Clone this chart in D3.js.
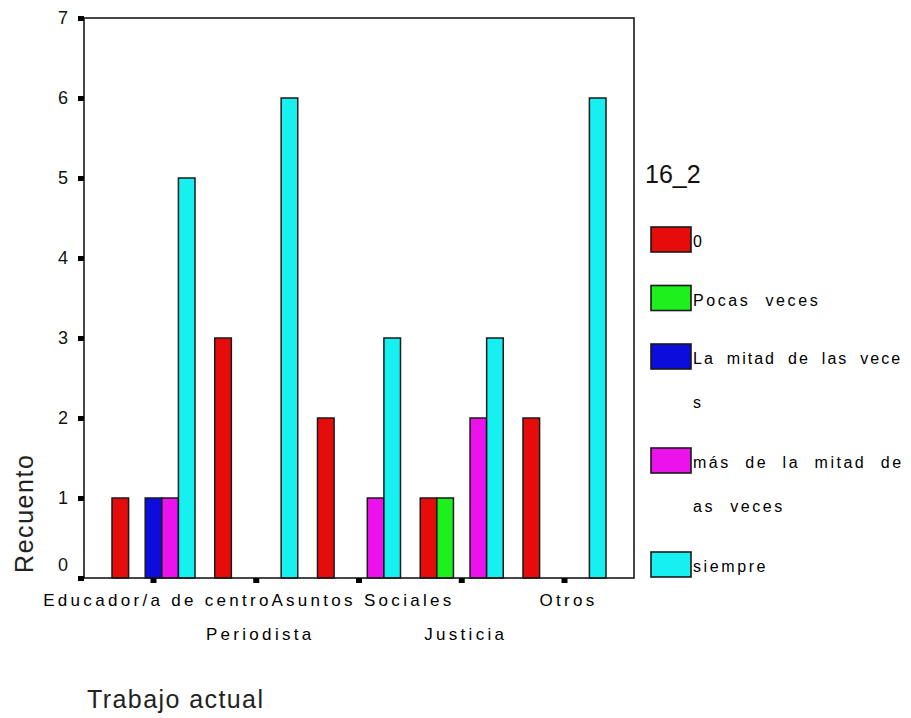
<!DOCTYPE html>
<html>
<head>
<meta charset="utf-8">
<script src="https://cdn.jsdelivr.net/npm/d3@7"></script>
<style>
  html, body { margin: 0; padding: 0; background: #fff; }
  svg { display: block; font-family: Arial, "Liberation Sans", Helvetica, sans-serif; }
</style>
</head>
<body>
<svg id="chart" width="911" height="718"></svg>
<script>
// ---------- data ----------
const categories = ["Educador/a de centro", "Periodista", "Asuntos Sociales", "Justicia", "Otros"];
const seriesNames = ["0", "Pocas veces", "La mitad de las veces", "más de la mitad de las veces", "siempre"];
const valsCero      = [1, 3, 2, 1, 2];
const valsPocas     = [0, 0, 0, 1, 0];
const valsMitad     = [1, 0, 0, 0, 0];
const valsMas       = [1, 0, 1, 2, 0];
const valsSiempre   = [5, 6, 3, 3, 6];
const yTicks = [0, 1, 2, 3, 4, 5, 6, 7];
const legendTitle = "16_2";
const legendLines = [["0"], ["Pocas veces"], ["La mitad de las vece", "s"], ["más de la mitad de", "as veces"], ["siempre"]];
const xTitle = "Trabajo actual";
const yTitle = "Recuento";
const colors = ["#e60c0c", "#1ef01e", "#0c0cdc", "#ec12ec", "#16f0f0"];

const seriesValues = [valsCero, valsPocas, valsMitad, valsMas, valsSiempre];

// ---------- layout ----------
const svg = d3.select("#chart");
const pLeft = 84, pRight = 634, pTop = 18, pBottom = 578;
const svgW = 911;

const x = d3.scaleBand().domain(categories).range([pLeft, pRight])
  .paddingInner(0.192).paddingOuter(0.2725);
const xs = d3.scaleBand().domain(seriesNames).range([0, x.bandwidth()]);
const y = d3.scaleLinear().domain([0, 7]).range([pBottom, pTop]);

svg.append("rect").attr("width", 911).attr("height", 718).attr("fill", "#fff");

// bars
const barData = [];
categories.forEach((c, ci) => {
  seriesNames.forEach((s, si) => {
    const v = seriesValues[si][ci];
    if (v > 0) barData.push({ c, s, si, v });
  });
});
svg.append("g").selectAll("rect").data(barData).join("rect")
  .attr("x", d => x(d.c) + xs(d.s))
  .attr("y", d => y(d.v))
  .attr("width", xs.bandwidth())
  .attr("height", d => y(0) - y(d.v))
  .attr("fill", d => colors[d.si])
  .attr("stroke", "#1a1a1a")
  .attr("stroke-width", 1.5);

// frame
svg.append("rect")
  .attr("x", pLeft).attr("y", pTop)
  .attr("width", pRight - pLeft).attr("height", pBottom - pTop)
  .attr("fill", "none").attr("stroke", "#1a1a1a").attr("stroke-width", 1.6);

// y axis
const yAxis = svg.append("g").attr("transform", `translate(${pLeft},0)`)
  .call(d3.axisLeft(y).tickValues(yTicks).tickFormat(d3.format("d")).tickSize(6).tickPadding(10));
yAxis.select(".domain").remove();
yAxis.selectAll(".tick line").attr("stroke", "#000").attr("stroke-width", 5);
yAxis.selectAll(".tick text")
  .attr("font-size", 18).attr("fill", "#111")
  .attr("font-family", "Arial, 'Liberation Sans', sans-serif")
  .attr("dy", d => d === 0 ? "-0.4em" : "0.33em");

// x axis
const xAxis = svg.append("g").attr("transform", `translate(0,${pBottom})`)
  .call(d3.axisBottom(x).tickSize(5).tickFormat(""));
xAxis.select(".domain").remove();
xAxis.selectAll(".tick line").attr("stroke", "#000").attr("stroke-width", 6);

// staggered category labels
svg.append("g").selectAll("text").data(categories).join("text")
  .attr("x", d => x(d) + x.bandwidth() / 2 + 4)
  .attr("y", (d, i) => i % 2 === 0 ? 606 : 640)
  .attr("text-anchor", "middle")
  .attr("font-size", 17)
  .attr("letter-spacing", 3.3)
  .attr("fill", "#000")
  .text(d => d);

// axis titles
svg.append("text")
  .attr("x", 87).attr("y", 708)
  .attr("font-size", 25).attr("fill", "#222")
  .attr("textLength", 176).attr("lengthAdjust", "spacing")
  .text(xTitle);

svg.append("text")
  .attr("transform", "translate(33,514) rotate(-90)")
  .attr("text-anchor", "middle")
  .attr("font-size", 25).attr("fill", "#222")
  .attr("textLength", 118).attr("lengthAdjust", "spacing")
  .text(yTitle);

// legend
const lg = svg.append("g");
lg.append("text").attr("x", 645).attr("y", 183)
  .attr("font-size", 25).attr("fill", "#111").text(legendTitle);

let ly = 227;
const textX = 693;
legendLines.forEach((lines, i) => {
  lg.append("rect")
    .attr("x", 651).attr("y", ly).attr("width", 40).attr("height", 25)
    .attr("fill", colors[i]).attr("stroke", "#1a1a1a").attr("stroke-width", 1.6);
  lines.forEach((ln, k) => {
    let ls = 2.6, ws = 8;
    const t = lg.append("text")
      .attr("x", textX).attr("y", ly + 20 + k * 44)
      .attr("font-size", 16).attr("letter-spacing", ls).attr("word-spacing", ws)
      .attr("fill", "#000")
      .text(ln);
    // keep the line inside the picture by tightening its spacing
    let guard = 0;
    while (t.node().getBBox().x + t.node().getBBox().width > svgW - 6 && guard < 40) {
      ls = Math.max(0, ls - 0.1); ws = Math.max(0, ws - 0.4);
      t.attr("letter-spacing", ls).attr("word-spacing", ws);
      guard++;
    }
  });
  ly += 58.5 + (lines.length - 1) * 45.5;
});
</script>
</body>
</html>
